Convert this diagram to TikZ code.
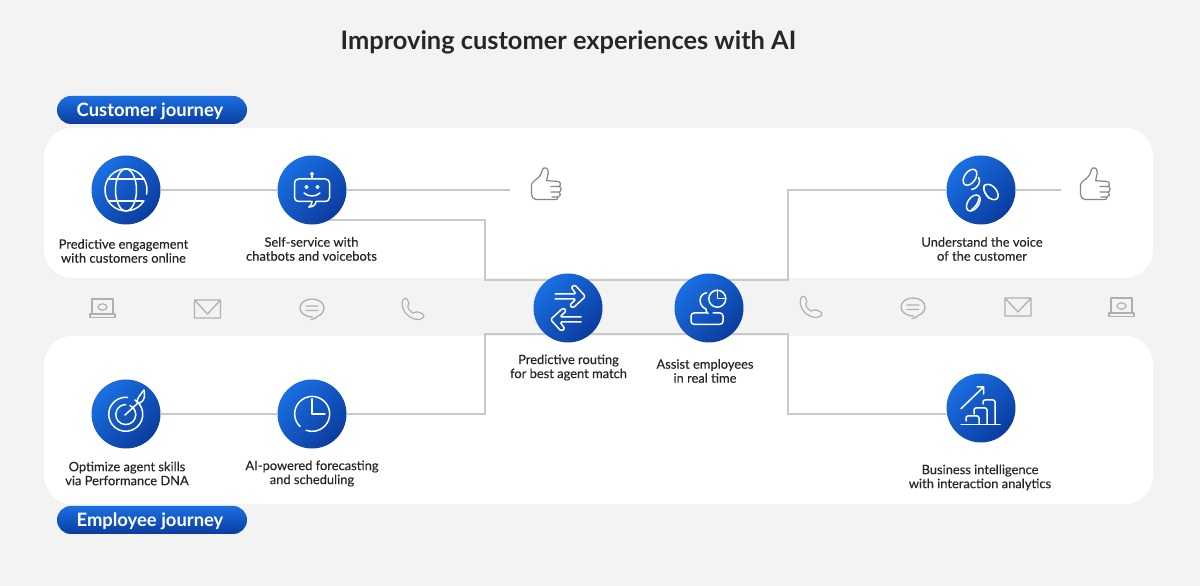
\documentclass[tikz,border=0pt]{standalone}
\usepackage{fontspec}
\setmainfont{Lato}
\newfontfamily\captionface[FakeBold=0.3]{Lato}
\definecolor{pagebg}{HTML}{F3F3F3}
\definecolor{wire}{HTML}{C9C9C9}
\definecolor{ink}{HTML}{26262A}
\definecolor{blueA}{HTML}{1A6FE2}
\definecolor{blueM}{HTML}{1560D2}
\definecolor{blueB}{HTML}{0B3C9F}
\definecolor{thumbgrey}{HTML}{858585}
\definecolor{chgrey}{HTML}{B0B0B0}
\pgfdeclarelayer{under}
\pgfdeclarelayer{wires}
\pgfsetlayers{under,wires,main}
\tikzset{
  x=1pt,y=1pt,
  panel/.style={fill=white,rounded corners=28pt},
  wireline/.style={draw=wire,line width=2.2pt},
  bubble/.style={circle,minimum size=69pt,inner sep=0pt,top color=blueA,bottom color=blueB,shading angle=45},
  pill/.style={rounded corners=14pt,top color=blueA,middle color=blueM,bottom color=blueB},
  pilltext/.style={text=white,font=\fontsize{18.4}{20}\selectfont\bfseries},
  caption/.style={text=ink,align=center,inner sep=0pt,font=\fontsize{12.9}{14}\selectfont\captionface},
  ico/.style={draw=white,line width=1.5pt,line cap=round,line join=round},
  thumbicon/.pic={
    \draw[draw=thumbgrey,line width=1.2pt,line join=round,line cap=round]
      (-14.5,-1) .. controls (-14.5,2) and (-9,5) .. (-6.7,7.3) .. controls (-5,9) and (-4.5,12) .. (-3.5,14.5)
      .. controls (-2.5,17) and (2.5,17.5) .. (2.3,11) .. controls (2,8) and (0.5,6) .. (0.7,3.3)
      -- (11.5,2.6) .. controls (14.5,2.4) and (15.5,-1) .. (13.2,-2.5)
      .. controls (15.8,-3.5) and (15.8,-7) .. (13.2,-8)
      .. controls (15.5,-9.5) and (14.5,-12.5) .. (12,-13)
      .. controls (12.5,-15) and (11,-15.5) .. (9,-15.5)
      -- (-10,-15.5) .. controls (-13,-15.5) and (-14.5,-13) .. (-14.5,-10) -- cycle
      (5,-2.5) -- (13.2,-2.5) (5,-8) -- (13.2,-8) (6,-13) -- (12,-13);
  },
  laptopicon/.pic={
    \draw[draw=chgrey,line width=1.3pt,line join=round,line cap=round]
      (-11,-6) -- (-11,9) -- (10,9) -- (10,-6)
      (-13,-6) rectangle (12,-9.5);
    \draw[draw=chgrey,line width=1.2pt,line join=round] (-0.5,1) ellipse (4.5 and 3.2);
  },
  mailicon/.pic={
    \draw[draw=chgrey,line width=1.3pt,line join=round,line cap=round]
      (-13,-9) rectangle (13,9) (-13,9) -- (0,-5) -- (13,9);
  },
  chaticon/.pic={
    \draw[draw=chgrey,line width=1.3pt,line join=round,line cap=round]
      (-1,-11.5) .. controls (3,-11) and (5,-9.5) .. (5,-8.5) .. controls (10,-7) and (12,-3) .. (12,0)
      .. controls (12,5) and (7,9) .. (0,9) .. controls (-7,9) and (-12,5) .. (-12,0)
      .. controls (-12,-5) and (-7,-9) .. (1,-9)
      (-6,2) -- (6,2) (-6,-2.5) -- (6,-2.5);
  },
  phoneicon/.pic={
    \draw[draw=chgrey,line width=1.2pt,line join=round,line cap=round]
      (-10.5,8) .. controls (-9.5,11) and (-6.5,11.5) .. (-5.5,9) .. controls (-4,6) and (-3.5,5) .. (-5,3)
      .. controls (-6,1.5) and (-2.5,-3) .. (0,-4) .. controls (2,-3.5) and (3,-2.5) .. (5,-3)
      .. controls (9,-4) and (12,-6) .. (10.5,-8) .. controls (8,-11) and (4,-11) .. (0,-9.5)
      .. controls (-7,-7) and (-12,0) .. (-10.5,8) -- cycle;
  }
}
\begin{document}
\begin{tikzpicture}
\useasboundingbox (0,0) rectangle (1200,586);

% page and the panels for the two journeys
\begin{pgfonlayer}{under}
  \fill[pagebg] (0,0) rectangle (1200,586);
  \fill[panel] (44,308) rectangle (1153,458);
  \fill[panel] (44,82) rectangle (1153,250);
\end{pgfonlayer}

% title and journey tags
\node (title) at (568.5,543.5) [text=ink,font=\fontsize{25.4}{28}\selectfont\bfseries] {Improving customer experiences with AI};
\path[pill] (57,462) rectangle (247,490);
\path[pill] (57,52) rectangle (247,80);
\node (cj) at (150,475) [pilltext] {Customer journey};
\node (ej) at (150,65) [pilltext] {Employee journey};

% route corners and free ends
\coordinate (thumbA) at (510,396);
\coordinate (thumbB) at (1061,396);
\coordinate (selfout) at (325,366);
\coordinate (t1) at (485,366);
\coordinate (t2) at (485,306);
\coordinate (t3) at (788,306);
\coordinate (t4) at (788,396);
\coordinate (b1) at (485,172);
\coordinate (b2) at (485,252);
\coordinate (b3) at (788,252);
\coordinate (b4) at (788,172);

% stage nodes
\node[bubble] (engage) at (126,396) {};
\node[bubble] (selfserve) at (312,396) {};
\node[bubble] (voice) at (981,396) {};
\node[bubble] (routing) at (568,278) {};
\node[bubble] (assist) at (709,278) {};
\node[bubble] (skills) at (126,172) {};
\node[bubble] (forecast) at (312,172) {};
\node[bubble] (bi) at (981,178) {};

% connectors, behind the stage nodes
\begin{pgfonlayer}{wires}
  \draw[wireline] (engage) -- (selfserve);
  \draw[wireline] (selfserve) -- (thumbA);
  \draw[wireline] (selfout) -- (t1) -- (t2) -- (t3) -- (t4) -- (voice);
  \draw[wireline] (voice) -- (thumbB);
  \draw[wireline] (skills) -- (forecast);
  \draw[wireline] (forecast) -- (b1) -- (b2) -- (b3) -- (b4) -- (bi.west |- b4);
\end{pgfonlayer}

% globe
\begin{scope}[shift={(126,396)}]
  \draw[ico] (17.8,-11) arc[start angle=-32,end angle=-372,radius=21];
  \draw[ico] (0,0) ellipse (10.5 and 21);
  \draw[ico] (-18,11) -- (18,11) (-18,-11) -- (17.8,-11);
\end{scope}
% chatbot
\begin{scope}[shift={(312,396)}]
  \draw[ico,rounded corners=4pt] (4,-11.5) -- (17.5,-11.5) -- (17.5,11) -- (-17.5,11) -- (-17.5,-11.5) -- (0,-11.5);
  \draw[ico] (4,-11.5) .. controls (4,-14.5) and (1,-17) .. (-3,-17);
  \draw[ico] (-3,-17) .. controls (-1,-15.5) and (0,-14) .. (0,-11.5);
  \draw[ico] (0,11) -- (0,14.5);
  \draw[ico,line width=1.2pt] (0,16) circle (1.4);
  \draw[ico,line width=1.2pt] (-5.5,3) circle (1.5) (5.5,3) circle (1.5);
  \draw[ico] (-8,-3) .. controls (-4,-7) and (4,-7) .. (8,-3);
\end{scope}
% voice of the customer
\begin{scope}[shift={(981,396)}]
  \draw[ico,rotate around={55:(-11,12.7)}] (-11,12.7) ellipse (9 and 5.5);
  \draw[ico,rotate around={-50:(10,-2)}] (10,-2) ellipse (9 and 5.5);
  \draw[ico,rotate around={-50:(7.5,0)}] (1,0) .. controls (3,-4) and (8,-5) .. (14,-5);
  \draw[ico,rotate around={55:(-7.7,-13)}] (-7.7,-13) ellipse (9 and 5.5);
  \draw[ico,rotate around={55:(-7.7,-13)}] (-14,-15.5) .. controls (-10,-17) and (-4,-17) .. (-1,-15);
  \draw[ico] (-2.5,12.5) .. controls (0,9) and (-2,2) .. (-9.5,0.5);
\end{scope}
% routing arrows
\begin{scope}[shift={(568,278)}]
  \draw[ico,rounded corners=1.5pt] (-13,14) -- (8,14) -- (3,21) -- (7,23) -- (17.5,11.5) -- (5,0) -- (1.5,2.5) -- (8,9) -- (-13,9);
  \draw[ico,rounded corners=1.5pt] (13,-14) -- (-8,-14) -- (-3,-21) -- (-7,-23) -- (-17.5,-11.5) -- (-5,0) -- (-1.5,-2.5) -- (-8,-9) -- (13,-9);
\end{scope}
% agent with clock
\begin{scope}[shift={(709,278)}]
  \draw[ico] (8.3,9.3) circle (8.5);
  \draw[ico] (8.3,17) -- (8.3,9.3) -- (16,9.3);
  \draw[ico] (-2.3,15.3) .. controls (-11,14) and (-11,2) .. (-3,-1) .. controls (-3,-3) and (-3,-4) .. (-1,-5.5);
  \draw[ico,rounded corners=3pt] (-3,-5) -- (-18,-5) -- (-18,-16.3) -- (14,-16.3) -- (14,-5) -- (4,-5);
\end{scope}
% target
\begin{scope}[shift={(126,172)}]
  \draw[ico] (9,14) arc[start angle=57,end angle=-276,radius=17];
  \draw[ico] (4,8.5) arc[start angle=65,end angle=-270,radius=10];
  \draw[ico] (-1,-1) -- (12,11);
  \draw[ico] (11,12) .. controls (11,16) and (15,20) .. (18,24) .. controls (19,18) and (19,14) .. (14,11) -- cycle;
\end{scope}
% clock
\begin{scope}[shift={(312,172)}]
  \draw[ico] (-12,-12.5) arc[start angle=226,end angle=-110,radius=17.5];
  \draw[ico] (0,15) -- (0,0) -- (13,0);
\end{scope}
% growth chart
\begin{scope}[shift={(981,178)}]
  \draw[ico] (-20,-16.3) -- (19,-16.3);
  \draw[ico,rounded corners=2pt] (-15,-13) -- (-15,-8) -- (-2,-8) -- (-2,-15.5);
  \draw[ico,rounded corners=2pt] (-7,-6) -- (-7,0) -- (6,0) -- (6,-15.5);
  \draw[ico,rounded corners=2pt] (2,4) -- (2,8) -- (14,8) -- (14,-15.5);
  \draw[ico] (-20,-0.7) -- (2.5,21) (-4,21) -- (2.5,21) -- (2.5,14);
\end{scope}

% thumbs
\path (546,402) pic {thumbicon};
\path (1095,402) pic {thumbicon};

% contact channels
\path (103,278) pic {laptopicon};
\path (207.5,277) pic {mailicon};
\path (312,278) pic {chaticon};
\path (413,277) pic {phoneicon};
\path (811,279) pic {phoneicon};
\path (913,279) pic {chaticon};
\path (1018,279) pic {mailicon};
\path (1122,279) pic {laptopicon};

% captions
\node[caption] (l1) at (123.5,335) {Predictive engagement\\with customers online};
\node[caption] (l2) at (311.5,337) {Self-service with\\chatbots and voicebots};
\node[caption] (l3) at (982,337) {Understand the voice\\of the customer};
\node[caption] (l4) at (568.5,218.5) {Predictive routing\\for best agent match};
\node[caption] (l5) at (705,215) {Assist employees\\in real time};
\node[caption] (l6) at (127,112.5) {Optimize agent skills\\via Performance DNA};
\node[caption] (l7) at (312,112.5) {AI-powered forecasting\\and scheduling};
\node[caption] (l8) at (980,108.5) {Business intelligence\\with interaction analytics};
\end{tikzpicture}
\end{document}
